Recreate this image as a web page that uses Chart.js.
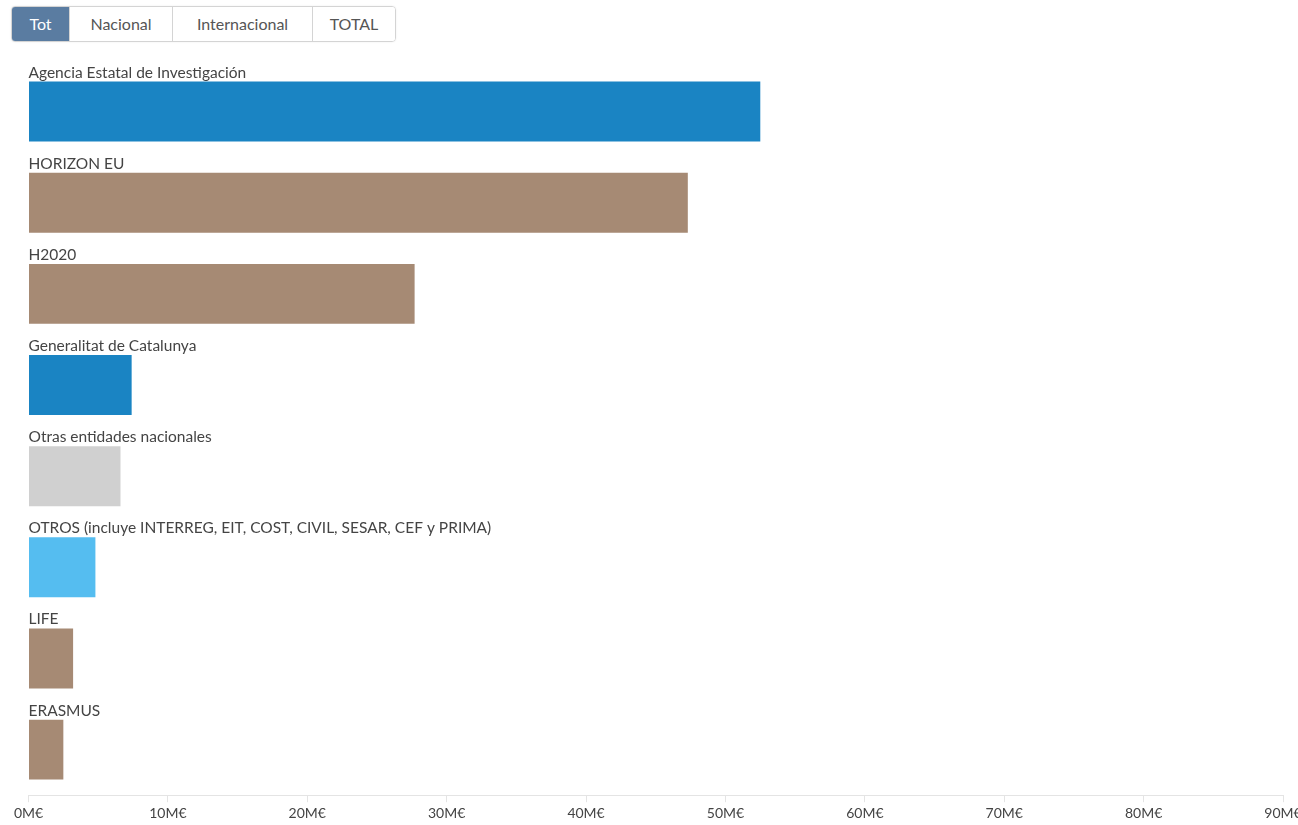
<!DOCTYPE html>
<html>
<head>
<meta charset="utf-8">
<script src="https://cdn.jsdelivr.net/npm/chart.js@4.4.0/dist/chart.umd.min.js"></script>
<style>
  body { margin: 0; background: #fff; overflow: hidden; font-family: Lato, "Open Sans", sans-serif; }
  .btn-group { position: absolute; left: 11px; top: 6px; display: flex; border: 1px solid #d4d4d4; border-radius: 4px; overflow: hidden; box-shadow: 0 0 2px rgba(0,0,0,0.08); }
  .btn-group div { height: 34px; line-height: 34px; padding: 0 15px; font-size: 16px; color: #555; background: #fff; border-left: 1px solid #d4d4d4; text-align: center; }
  .btn-group div:first-child { border-left: none; }
  .btn-group div.active { background: #5a7ca1; color: #fff; }
  #wrap { position: absolute; left: 0; top: 50px; width: 1310px; height: 775px; }
</style>
</head>
<body>
<div class="btn-group">
  <div class="active" style="width:27px">Tot</div>
  <div style="width:72px">Nacional</div>
  <div style="width:109px">Internacional</div>
  <div style="width:52px">TOTAL</div>
</div>
<div id="wrap"><canvas id="chart"></canvas></div>
<script>
const categories = [
  "Agencia Estatal de Investigación",
  "HORIZON EU",
  "H2020",
  "Generalitat de Catalunya",
  "Otras entidades nacionales",
  "OTROS (incluye INTERREG, EIT, COST, CIVIL, SESAR, CEF y PRIMA)",
  "LIFE",
  "ERASMUS"
];
const values = [52.5, 47.3, 27.7, 7.4, 6.6, 4.8, 3.2, 2.5]; // M€
const barColors = ["#1a84c3", "#a68a74", "#a68a74", "#1a84c3", "#d0d0d0", "#55bdf0", "#a68a74", "#a68a74"];
const xTicks = [0, 10, 20, 30, 40, 50, 60, 70, 80, 90];

// labels above each bar
const barLabels = {
  id: "barLabels",
  afterDatasetsDraw(chart) {
    const ctx = chart.ctx;
    const meta = chart.getDatasetMeta(0);
    ctx.save();
    ctx.font = "15.5px Lato";
    ctx.fillStyle = "#444";
    ctx.textBaseline = "alphabetic";
    ctx.textAlign = "left";
    meta.data.forEach((bar, i) => {
      ctx.fillText(categories[i], chart.chartArea.left, bar.y - bar.height / 2 - 4);
    });
    ctx.restore();
  }
};

new Chart("chart", {
  type: "bar",
  data: {
    labels: categories,
    datasets: [{
      data: values,
      backgroundColor: barColors,
      barPercentage: 0.658,
      categoryPercentage: 1
    }]
  },
  options: {
    indexAxis: "y",
    responsive: true,
    maintainAspectRatio: false,
    animation: false,
    layout: { padding: { left: 28.5, right: 27, top: 16, bottom: 0 } },
    plugins: { legend: { display: false }, tooltip: { enabled: false } },
    scales: {
      y: { display: false },
      x: {
        min: 0,
        max: 90,
        afterBuildTicks(axis) { axis.ticks = xTicks.map(v => ({ value: v })); },
        grid: { drawOnChartArea: false, drawTicks: true, tickLength: 7, color: "#e4e4e4" },
        border: { color: "#e4e4e4" },
        ticks: {
          maxRotation: 0,
          padding: 3,
          color: "#444",
          font: { family: "Lato", size: 14 },
          callback: (v) => v + "M€"
        }
      }
    }
  },
  plugins: [barLabels]
});
</script>
</body>
</html>
